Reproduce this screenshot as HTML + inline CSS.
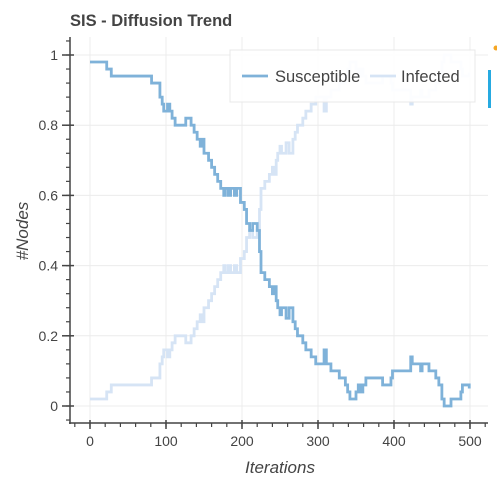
<!DOCTYPE html>
<html><head><meta charset="utf-8"><style>
html,body{margin:0;padding:0;background:#fff;width:497px;height:481px;overflow:hidden}
svg text{font-family:"Liberation Sans",Helvetica,Arial,sans-serif}
</style></head><body>
<svg id="chart" width="497" height="481" viewBox="0 0 497 481" xmlns="http://www.w3.org/2000/svg">
<text x="70" y="26" font-size="16.5" font-weight="bold" fill="#444">SIS - Diffusion Trend</text>
<g id="grid"></g>
<g id="series"></g>
<g id="axes"></g>
<text transform="translate(28,231) rotate(-90)" text-anchor="middle" font-size="17" font-style="italic" fill="#444">#Nodes</text>
<text x="280" y="473" text-anchor="middle" font-size="17" font-style="italic" fill="#444">Iterations</text>
<g>
<rect x="230" y="50" width="245" height="52" fill="#fff" fill-opacity="0.92" stroke="#e8e8e8"/>
<g>
<line x1="242" y1="76" x2="268" y2="76" stroke="#7fb2d9" stroke-width="2.8"/>
<text x="275" y="82" font-size="16.5" fill="#444">Susceptible</text></g>
<g>
<line x1="370" y1="76" x2="396" y2="76" stroke="#d6e4f5" stroke-width="2.8"/>
<text x="401" y="82" font-size="16.5" fill="#444">Infected</text></g>
</g>
<circle cx="496" cy="48" r="2.5" fill="#f5a623"/>
<rect x="488" y="70" width="3" height="38" fill="#26aae1"/>
</svg>
<script>
const xTicks=[0,100,200,300,400,500];
const yTicks=[0,0.2,0.4,0.6,0.8,1];
const yTickLabels=["0","0.2","0.4","0.6","0.8","1"];
const iterations=[0,22,28,81,92,95,97,102,105,108,112,126,133,137,141,145,148,150,156,160,164,168,172,176,178,182,185,190,193,198,203,206,210,214,220,223,225,230,236,240,243,245,247,250,252,258,262,267,270,273,280,284,291,297,308,311,317,328,336,339,342,350,353,356,359,363,385,396,398,422,424,435,437,446,455,459,463,466,475,488,490,496,499];
const susceptible=[.98,.96,.94,.92,.88,.86,.84,.86,.84,.82,.80,.82,.80,.78,.76,.74,.76,.72,.70,.68,.66,.64,.62,.60,.62,.60,.62,.60,.62,.58,.56,.52,.50,.52,.50,.44,.38,.36,.34,.32,.34,.30,.28,.26,.28,.25,.28,.24,.22,.20,.18,.16,.14,.12,.16,.12,.10,.08,.06,.04,.02,.04,.06,.04,.06,.08,.06,.08,.10,.14,.12,.10,.12,.10,.08,.06,.02,.00,.02,.04,.06,.06,.05];
const infected=[.02,.04,.06,.08,.12,.14,.16,.14,.16,.18,.20,.18,.20,.22,.24,.26,.24,.28,.30,.32,.34,.36,.38,.40,.38,.40,.38,.40,.38,.42,.44,.48,.50,.48,.50,.56,.62,.64,.66,.68,.66,.70,.72,.74,.72,.75,.72,.76,.78,.80,.82,.84,.86,.88,.84,.88,.90,.92,.94,.96,.98,.96,.94,.96,.94,.92,.94,.92,.90,.86,.88,.90,.88,.90,.92,.94,.98,1.0,.98,.96,.94,.94,.95];
const X0=62,X1=488,Y0=37,Y1=423;
const xs=v=>90+0.76*v;
const ys=v=>406-351*v;
const NS="http://www.w3.org/2000/svg";
function mk(tag,attrs,parent){const e=document.createElementNS(NS,tag);for(const k in attrs)e.setAttribute(k,attrs[k]);parent.appendChild(e);return e;}
const grid=document.getElementById('grid'),axes=document.getElementById('axes'),series=document.getElementById('series');
xTicks.forEach(t=>{const l=mk('line',{x1:xs(t),x2:xs(t),y1:Y0,y2:Y1,stroke:'#ececec'},grid);

});
yTicks.forEach(t=>{const l=mk('line',{x1:70,x2:X1,y1:ys(t),y2:ys(t),stroke:'#ececec'},grid);

});
function stepPath(ix,vals){let d='M'+xs(ix[0])+','+ys(vals[0]);for(let i=1;i<ix.length;i++){d+='H'+xs(ix[i])+'V'+ys(vals[i]);}return d;}
const pI=mk('path',{d:stepPath(iterations,infected),fill:'none',stroke:'#d6e4f5','stroke-width':2.8},series);


const pS=mk('path',{d:stepPath(iterations,susceptible),fill:'none',stroke:'#7fb2d9','stroke-width':2.8},series);


const ya=mk('line',{x1:70,x2:70,y1:Y0,y2:Y1+1,stroke:'#444','stroke-width':1.5},axes);


const xa=mk('line',{x1:69,x2:X1,y1:Y1,y2:Y1,stroke:'#444','stroke-width':1.5},axes);


for(let v=-0.04;v<=1.05;v+=0.04){const y=ys(v);if(y<Y0||y>Y1-2)continue;mk('line',{x1:66,x2:70,y1:y,y2:y,stroke:'#444','stroke-width':1.2},axes);}
for(let v=-20;v<=520;v+=20){const x=xs(v);if(x<71||x>X1)continue;mk('line',{x1:x,x2:x,y1:Y1,y2:Y1+4,stroke:'#444','stroke-width':1.2},axes);}
yTicks.forEach((t,i)=>{mk('line',{x1:62,x2:74,y1:ys(t),y2:ys(t),stroke:'#444','stroke-width':1.5},axes);
const tx=mk('text',{x:58,y:ys(t)+5,'text-anchor':'end','font-size':14,fill:'#444'},axes);tx.textContent=yTickLabels[i];

});
xTicks.forEach(t=>{mk('line',{x1:xs(t),x2:xs(t),y1:Y1-3,y2:Y1+6,stroke:'#444','stroke-width':1.5},axes);
const tx=mk('text',{x:xs(t),y:Y1+23,'text-anchor':'middle','font-size':14,fill:'#444'},axes);tx.textContent=String(t);

});
</script>
</body></html>
